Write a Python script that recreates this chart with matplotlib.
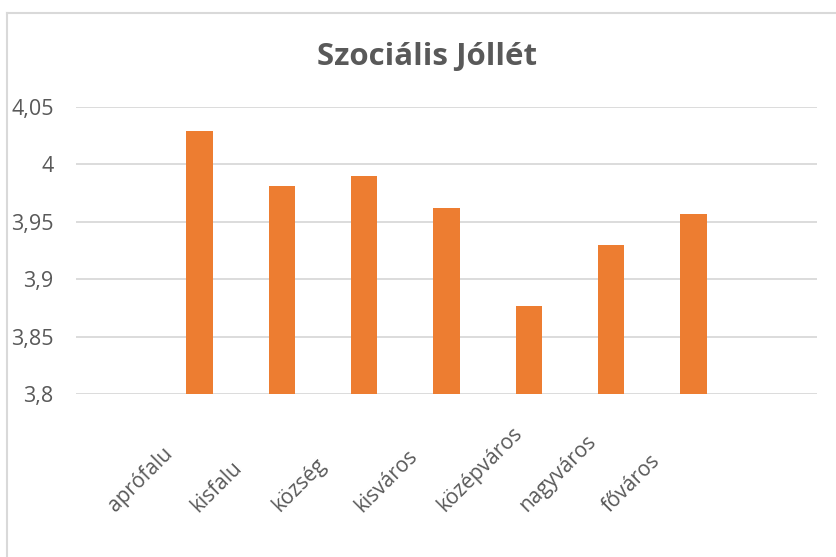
import numpy as np
import matplotlib.pyplot as plt
import matplotlib.transforms as mtransforms
from matplotlib.lines import Line2D
from matplotlib.ticker import FuncFormatter

# data
categories = ["aprófalu", "kisfalu", "község", "kisváros", "középváros", "nagyváros", "főváros"]
values = [4.029, 3.981, 3.990, 3.962, 3.877, 3.930, 3.957]
y_ticks = [3.8, 3.85, 3.9, 3.95, 4.0, 4.05]

TEXT = "#595959"
GRID = "#D9D9D9"
BAR = "#ED7D31"

plt.rcParams['font.family'] = ['Open Sans', 'DejaVu Sans']

W, H = 836, 557
fig = plt.figure(figsize=(W / 100, H / 100), dpi=100)
ax = fig.add_axes([76 / W, (H - 394) / H, (817 - 76) / W, (394 - 107) / H])

# 9 category slots, first and last empty
x = np.arange(1, len(categories) + 1)
ax.bar(x, values, width=0.316, color=BAR, zorder=3)
ax.set_xlim(-0.5, len(categories) + 1.5)
ax.set_ylim(3.8, 4.05)

ax.set_yticks(y_ticks)
ax.yaxis.set_major_formatter(FuncFormatter(lambda v, p: f"{v:g}".replace(".", ",")))
ax.grid(axis='y', color=GRID, linewidth=1.3, zorder=0)
ax.tick_params(axis='y', length=0, pad=16, labelsize=15.5, labelcolor=TEXT)
ax.tick_params(axis='x', length=0, labelsize=15, labelcolor=TEXT)

for s in ax.spines.values():
    s.set_visible(False)

ax.set_xticks(x)
ax.set_xticklabels(categories, rotation=45, ha='left', va='baseline', rotation_mode='anchor')
offset = mtransforms.ScaledTranslation(-0.84, -1.14, fig.dpi_scale_trans)
for lbl in ax.get_xticklabels():
    lbl.set_transform(lbl.get_transform() + offset)

fig.text(427 / W, 1 - 57 / H, "Szociális Jóllét", ha='center', va='center',
         fontsize=22.5, fontweight='bold', color=TEXT)

# chart border (top and left visible)
fig.add_artist(Line2D([6.5 / W, 1], [1 - 12.5 / H, 1 - 12.5 / H], color=GRID, linewidth=1.5))
fig.add_artist(Line2D([6.5 / W, 6.5 / W], [0, 1 - 12.5 / H], color=GRID, linewidth=1.5))

fig.savefig("out.png", dpi=100)
